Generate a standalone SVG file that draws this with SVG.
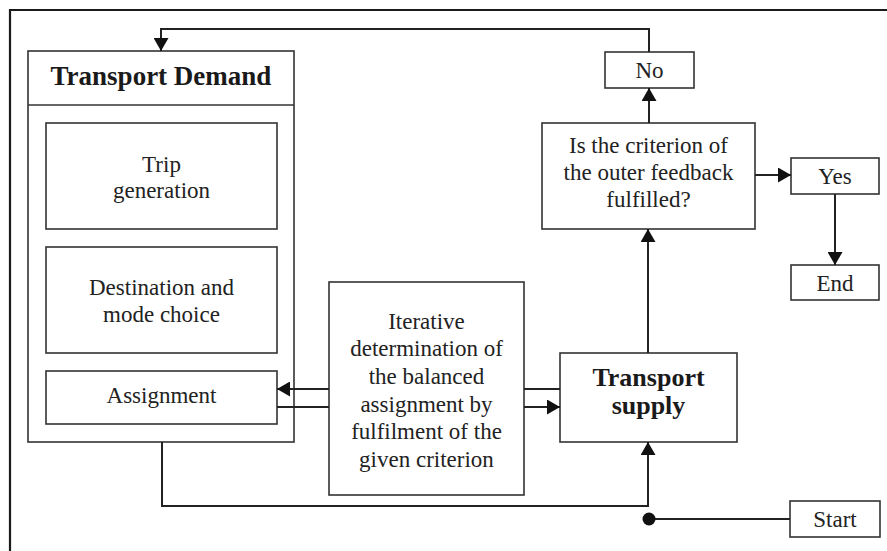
<svg xmlns="http://www.w3.org/2000/svg" width="887" height="551" viewBox="0 0 887 551">
<style>
.box{fill:#fff;stroke:#333;stroke-width:1.6}
.t{font-family:"Liberation Serif","Times New Roman",serif;font-size:23px;fill:#222;text-anchor:middle}
.b{font-family:"Liberation Serif","Times New Roman",serif;font-size:27px;font-weight:bold;fill:#1a1a1a;text-anchor:middle}
.b2{font-family:"Liberation Serif","Times New Roman",serif;font-size:26px;font-weight:bold;fill:#1a1a1a;text-anchor:middle}
.c{fill:none;stroke:#222;stroke-width:2}
</style>
<defs>
<marker id="ah" markerUnits="userSpaceOnUse" viewBox="0 0 13 15" refX="13" refY="7.5" markerWidth="13" markerHeight="15" orient="auto">
<path d="M0,0 L13,7.5 L0,15 Z" fill="#111"/>
</marker>
</defs>
<rect width="887" height="551" fill="#fff"/>
<path d="M10,551 V10 H887" fill="none" stroke="#1a1a1a" stroke-width="2.2"/>

<g id="transport-demand">
<rect class="box" x="28" y="51" width="266" height="391"/>
<line x1="28" y1="105" x2="294" y2="105" stroke="#333" stroke-width="1.6"/>
<text class="b" x="161" y="85">Transport Demand</text>
</g>
<g id="trip-generation">
<rect class="box" x="46" y="123" width="231" height="106"/>
<text class="t" x="161.5" y="172">Trip</text>
<text class="t" x="161.5" y="198">generation</text>
</g>
<g id="destination-mode">
<rect class="box" x="46" y="247" width="231" height="106"/>
<text class="t" x="161.5" y="295">Destination and</text>
<text class="t" x="161.5" y="322">mode choice</text>
</g>
<g id="assignment">
<rect class="box" x="46" y="371" width="231" height="53"/>
<text class="t" x="161.5" y="403">Assignment</text>
</g>
<g id="iterative">
<rect class="box" x="329" y="282" width="195" height="213"/>
<text class="t" x="426.5" y="329">Iterative</text>
<text class="t" x="426.5" y="356">determination of</text>
<text class="t" x="426.5" y="384">the balanced</text>
<text class="t" x="426.5" y="412">assignment by</text>
<text class="t" x="426.5" y="439">fulfilment of the</text>
<text class="t" x="426.5" y="467">given criterion</text>
</g>
<g id="transport-supply">
<rect class="box" x="560" y="353" width="177" height="89"/>
<text class="b2" x="648.5" y="386">Transport</text>
<text class="b2" x="648.5" y="414">supply</text>
</g>
<g id="decision">
<rect class="box" x="542" y="123" width="213" height="106"/>
<text class="t" x="648.5" y="153">Is the criterion of</text>
<text class="t" x="648.5" y="180">the outer feedback</text>
<text class="t" x="648.5" y="207">fulfilled?</text>
</g>
<g id="no">
<rect class="box" x="605" y="52" width="89" height="36"/>
<text class="t" x="649.5" y="78">No</text>
</g>
<g id="yes">
<rect class="box" x="791" y="158" width="88" height="36"/>
<text class="t" x="835" y="184">Yes</text>
</g>
<g id="end">
<rect class="box" x="791" y="265" width="88" height="35"/>
<text class="t" x="835" y="291">End</text>
</g>
<g id="start">
<rect class="box" x="790" y="501" width="90" height="36"/>
<text class="t" x="835" y="527">Start</text>
</g>

<g id="connectors">
<path class="c" d="M649,52 V29 H161 V51" marker-end="url(#ah)"/>
<path class="c" d="M649,123 V88" marker-end="url(#ah)"/>
<path class="c" d="M755,175 H791" marker-end="url(#ah)"/>
<path class="c" d="M835,194 V265" marker-end="url(#ah)"/>
<path class="c" d="M648,353 V229" marker-end="url(#ah)"/>
<path class="c" d="M329,389 H277" marker-end="url(#ah)"/>
<path class="c" d="M277,407 H329"/>
<path class="c" d="M560,389 H524"/>
<path class="c" d="M524,407 H560" marker-end="url(#ah)"/>
<path class="c" d="M162,442 V506 H648 V442" marker-end="url(#ah)"/>
<path class="c" d="M790,519 H649"/>
<circle cx="649" cy="519" r="6.5" fill="#111"/>
</g>
</svg>
